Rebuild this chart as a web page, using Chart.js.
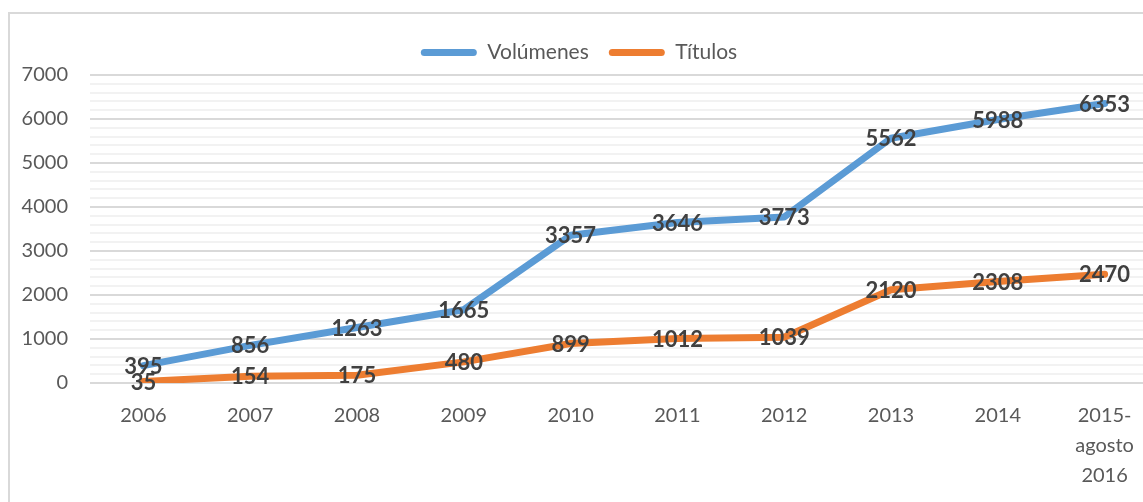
<!DOCTYPE html>
<html>
<head>
<meta charset="utf-8">
<script src="https://cdn.jsdelivr.net/npm/chart.js@4"></script>
<style>
  body { margin: 0; background: #fff; overflow: hidden; width: 1143px; height: 502px; position: relative; }
  .frame { position: absolute; left: 8px; top: 12px; width: 1300px; height: 700px; border-left: 2px solid #d9d9d9; border-top: 2px solid #d9d9d9; }
  #chart { position: absolute; left: 0; top: 0; }
</style>
</head>
<body>
<div class="frame"></div>
<canvas id="chart" width="1158" height="502"></canvas>
<script>
const years = ['2006', '2007', '2008', '2009', '2010', '2011', '2012', '2013', '2014', ['2015-', 'agosto', '2016']]
const volumenes = [395, 856, 1263, 1665, 3357, 3646, 3773, 5562, 5988, 6353]
const titulos = [35, 154, 175, 480, 899, 1012, 1039, 2120, 2308, 2470]

const fontFamily = 'Lato, "Open Sans", sans-serif'
const ctx = document.getElementById('chart')

// labels on top of each point, like excel data labels
const pointLabels = {
    id: 'pointLabels',
    afterDatasetsDraw(chart) {
        const c = chart.ctx
        c.save()
        c.font = 'bold 22px ' + fontFamily
        c.fillStyle = '#404040'
        c.textAlign = 'center'
        c.textBaseline = 'middle'
        chart.data.datasets.forEach((ds, i) => {
            chart.getDatasetMeta(i).data.forEach((pt, j) => {
                c.fillText(ds.data[j], pt.x, pt.y + 1)
            })
        })
        c.restore()
    }
}

// keep the legend box a fixed height
const legendHeight = {
    id: 'legendHeight',
    afterInit(chart) {
        const lg = chart.legend
        const fit = lg.fit
        lg.fit = function () {
            fit.call(this)
            this.height = 53
        }
    }
}

new Chart(ctx, {
    type: 'line',
    data: {
        labels: years,
        datasets: [{
            label: 'Volúmenes',
            data: volumenes,
            borderColor: '#5B9BD5',
            backgroundColor: '#5B9BD5',
            borderWidth: 7,
            pointRadius: 0,
            borderCapStyle: 'round',
            borderJoinStyle: 'round'
        }, {
            label: 'Títulos',
            data: titulos,
            borderColor: '#ED7D31',
            backgroundColor: '#ED7D31',
            borderWidth: 7,
            pointRadius: 0,
            borderCapStyle: 'round',
            borderJoinStyle: 'round'
        }]
    },
    options: {
        responsive: false,
        animation: false,
        layout: { padding: { top: 22, left: 0, right: 0, bottom: 0 } },
        plugins: {
            tooltip: { enabled: false },
            legend: {
                position: 'top',
                labels: {
                    color: '#595959',
                    font: { family: fontFamily, size: 21 },
                    boxWidth: 56,
                    boxHeight: 7,
                    padding: 20,
                    useBorderRadius: true,
                    borderRadius: 3.5,
                    generateLabels(chart) {
                        return Chart.defaults.plugins.legend.labels.generateLabels(chart).map(l => {
                            l.lineWidth = 0
                            return l
                        })
                    }
                }
            }
        },
        scales: {
            x: {
                offset: true,
                grid: { display: false },
                border: { display: false },
                ticks: {
                    color: '#595959',
                    font: { family: fontFamily, size: 20, lineHeight: 1.5 },
                    padding: 10,
                    maxRotation: 0,
                    autoSkip: false
                },
                afterFit(scale) { scale.height = 119 }
            },
            y: {
                min: 0,
                max: 7000,
                border: { display: false },
                grid: {
                    drawTicks: false,
                    lineWidth: 2,
                    color: c => c.tick.value % 1000 === 0 ? '#d9d9d9' : '#f2f2f2'
                },
                ticks: {
                    stepSize: 200,
                    autoSkip: false,
                    color: '#595959',
                    font: { family: fontFamily, size: 20 },
                    padding: 22,
                    callback: v => v % 1000 === 0 ? v : ''
                },
                afterFit(scale) { scale.width = 90 }
            }
        }
    },
    plugins: [pointLabels, legendHeight]
})
</script>
</body>
</html>
